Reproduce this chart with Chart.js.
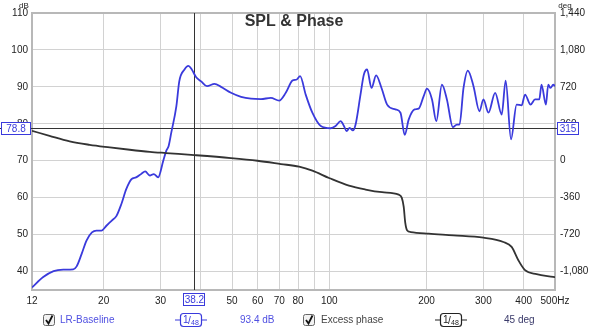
<!DOCTYPE html>
<html>
<head>
<meta charset="utf-8">
<script src="https://cdn.jsdelivr.net/npm/chart.js@4/dist/chart.umd.min.js"></script>
<style>
  html, body { margin: 0; padding: 0; background: #fff; }
  #wrap { width: 600px; height: 331px; }
</style>
</head>
<body>
<div id="wrap"><canvas id="spl" width="600" height="331"></canvas></div>
<script>
// SPL trace (left axis, dB)
const splFreq = [12, 13, 14, 15, 16.1, 16.5, 17.1, 17.7, 18.4, 19, 19.7, 20.4, 21.2, 21.9, 22.7, 23.5, 24.4, 25.2, 26.2, 26.9,
    27.8, 28.6, 29.5, 30.6, 31.3, 31.8, 32.4, 33.6, 34.3, 35.6, 36.6, 37.5, 38.7, 40.1, 41.8, 44.1, 46.2, 49.6, 53.3, 57.2,
    61.4, 65.9, 69.9, 73.3, 76.9, 79.3, 81.2, 84.5, 88.6, 94.1, 101, 104.6, 108.4, 111, 113.1, 115.6, 118.3, 120.6, 124.9, 127.9,
    130.9, 135.1, 139.6, 145.1, 151, 160.2, 166.1, 171.2, 176.2, 183.8, 189.1, 196, 200.7, 208, 214.5, 223.2, 231.3, 241.3, 248.3, 253.1,
    260.4, 268.5, 279.6, 291.7, 300.1, 311, 326.3, 341.9, 351.7, 365.4, 380.3, 394.1, 403.8, 420.1, 433.6, 446.9, 454.2, 468.6, 476.4, 484.2,
    493.6, 500];
const splDb = [35.7, 38.5, 40.1, 40.5, 40.6, 41.4, 44.8, 48.4, 50.6, 51.1, 51.1, 52.4, 53.8, 55.0, 58.3, 62.3, 65.0, 65.5, 66.5, 67.1,
    66.0, 66.4, 65.5, 70.0, 72.8, 74.0, 77.6, 84.8, 91.5, 94.7, 95.7, 94.7, 92.6, 91.5, 90.2, 90.8, 90.0, 88.4, 87.3, 86.8,
    86.7, 87.0, 86.3, 88.4, 91.7, 92.0, 92.9, 87.9, 83.0, 79.4, 78.8, 79.4, 80.7, 79.4, 78.0, 78.9, 78.2, 79.8, 87.9, 93.3,
    94.7, 89.7, 93.1, 89.7, 85.2, 83.9, 83.0, 77.0, 81.2, 83.9, 84.1, 87.5, 89.5, 86.6, 80.7, 90.6, 86.6, 79.1, 79.8, 79.8,
    89.7, 94.4, 90.2, 83.4, 86.6, 83.0, 88.4, 82.5, 91.7, 75.8, 85.2, 85.0, 87.9, 85.2, 86.6, 86.6, 90.6, 85.2, 90.6, 89.7,
    90.6, 90.2];

// Excess phase trace (right axis, deg)
const phaseFreq = [12, 13.6, 15.7, 18.1, 20.9, 24.1, 27.8, 31.2, 38.2, 49.6, 59.9, 70.8, 80.6, 88.6, 99.8, 115, 129.5, 145.7, 164, 167.6,
    170, 171.8, 174.3, 178.7, 203, 242.5, 300.1, 346, 367, 385, 403.8, 438.5, 493.6, 500];
const phaseDeg = [292, 242, 188, 155, 130, 107, 87, 75, 55, 26, 0, -32, -58, -97, -168, -243, -281, -307, -330, -360,
    -450, -600, -680, -695, -711, -727, -750, -792, -840, -970, -1067, -1106, -1132, -1135];

// Axis ticks
const freqTicks = [12, 20, 30, 40, 50, 60, 70, 80, 90, 100, 200, 300, 400, 500];
const freqLabels = ['12', '20', '30', '', '50', '60', '70', '80', '', '100', '200', '300', '400', '500Hz'];
const dbTicks = [40, 50, 60, 70, 80, 90, 100, 110];
const degTicks = [-1080, -720, -360, 0, 360, 720, 1080, 1440];

// Cursor readout
const cursorFreq = 38.2;
const cursorDb = 78.8;
const cursorDeg = 315;

const blue = 'rgb(58, 58, 220)';
const font = 'Liberation Sans, Arial, sans-serif';

function toPoints( xs, ys ) {
    return xs.map( ( x, i ) => ( { x: x, y: ys[i] } ) );
}

/**
 * Draws a small boxed value like the cursor readouts.
 */
function tag( ctx, text, cx, cy, w ) {
    ctx.fillStyle = '#fff';
    ctx.fillRect( cx - w / 2, cy - 6, w, 13 );
    ctx.strokeStyle = blue;
    ctx.lineWidth = 1;
    ctx.strokeRect( Math.round( cx - w / 2 ) + 0.5, Math.round( cy - 6 ) + 0.5, w - 1, 12 );
    ctx.fillStyle = blue;
    ctx.font = '10px ' + font;
    ctx.textAlign = 'center';
    ctx.textBaseline = 'middle';
    ctx.fillText( text, cx, cy + 1 );
}

function checkbox( ctx, x, y ) {
    ctx.fillStyle = '#f2f2f2';
    ctx.strokeStyle = '#666';
    ctx.lineWidth = 1;
    ctx.beginPath();
    ctx.roundRect( x + 0.5, y + 0.5, 11, 11, 2 );
    ctx.fill();
    ctx.stroke();
    ctx.strokeStyle = '#111';
    ctx.lineWidth = 1.8;
    ctx.beginPath();
    ctx.moveTo( x + 3, y + 6 );
    ctx.lineTo( x + 5.5, y + 9.5 );
    ctx.lineTo( x + 9.5, y + 1.5 );
    ctx.stroke();
}

function filterBox( ctx, x, y, color ) {
    ctx.strokeStyle = color;
    ctx.lineWidth = 1.2;
    ctx.beginPath();
    ctx.moveTo( x, y + 7 ); ctx.lineTo( x + 5, y + 7 );
    ctx.moveTo( x + 27, y + 7 ); ctx.lineTo( x + 32, y + 7 );
    ctx.stroke();
    ctx.beginPath();
    ctx.roundRect( x + 5.5, y + 0.5, 21, 13, 3 );
    ctx.stroke();
    ctx.fillStyle = color;
    ctx.textAlign = 'left';
    ctx.textBaseline = 'alphabetic';
    ctx.font = '10px ' + font;
    ctx.fillText( '1', x + 8, y + 10 );
    ctx.fillText( '/', x + 13, y + 11 );
    ctx.font = '7px ' + font;
    ctx.fillText( '48', x + 16, y + 12 );
}

const overlay = {
    id: 'overlay',
    beforeDatasetsDraw( chart ) {
        const ctx = chart.ctx;
        const a = chart.chartArea;
        const xs = chart.scales.x;
        const ys = chart.scales.y;
        ctx.save();
        // plot frame
        ctx.strokeStyle = '#b8b8b8';
        ctx.lineWidth = 2;
        ctx.strokeRect( a.left, a.top, a.right - a.left, a.bottom - a.top );
        // cursor lines
        ctx.strokeStyle = '#333';
        ctx.lineWidth = 1;
        const cx = Math.round( xs.getPixelForValue( cursorFreq ) ) + 0.5;
        const cy = Math.round( ys.getPixelForValue( cursorDb ) ) + 0.5;
        ctx.beginPath();
        ctx.moveTo( cx, a.top ); ctx.lineTo( cx, a.bottom );
        ctx.moveTo( 0, cy ); ctx.lineTo( a.right + 2, cy );
        ctx.stroke();
        ctx.restore();
    },
    afterDraw( chart ) {
        const ctx = chart.ctx;
        const a = chart.chartArea;
        const xs = chart.scales.x;
        const ys = chart.scales.y;
        ctx.save();
        // title
        ctx.fillStyle = '#333';
        ctx.font = 'bold 16px ' + font;
        ctx.textAlign = 'center';
        ctx.textBaseline = 'middle';
        ctx.fillText( 'SPL & Phase', 294, 22 );
        // units
        ctx.font = '8px ' + font;
        ctx.fillStyle = '#222';
        ctx.fillText( 'dB', 24, 6 );
        ctx.fillText( 'deg', 565, 6 );
        // cursor readouts
        const cy = ys.getPixelForValue( cursorDb );
        tag( ctx, cursorDb.toFixed( 1 ), 16, cy, 30 );
        tag( ctx, String( cursorDeg ), 568, cy, 22 );
        tag( ctx, cursorFreq.toFixed( 1 ), xs.getPixelForValue( cursorFreq ), 299, 22 );
        // legend row
        checkbox( ctx, 43, 314 );
        ctx.font = '10px ' + font;
        ctx.textAlign = 'left';
        ctx.textBaseline = 'middle';
        ctx.fillStyle = 'rgb(80, 80, 225)';
        ctx.fillText( 'LR-Baseline', 60, 320.5 );
        filterBox( ctx, 175, 313, blue );
        ctx.font = '10px ' + font;
        ctx.textBaseline = 'middle';
        ctx.fillStyle = 'rgb(80, 80, 225)';
        ctx.fillText( '93.4 dB', 240, 320.5 );
        checkbox( ctx, 303, 314 );
        ctx.fillStyle = '#444';
        ctx.fillText( 'Excess phase', 321, 320.5 );
        filterBox( ctx, 435, 313, '#222' );
        ctx.font = '10px ' + font;
        ctx.textBaseline = 'middle';
        ctx.fillStyle = '#3a3a6a';
        ctx.fillText( '45 deg', 504, 320.5 );
        ctx.restore();
    }
};

const tickFont = { family: font, size: 10 };

new Chart( document.getElementById( 'spl' ), {
    type: 'line',
    data: {
        datasets: [{
            label: 'Excess phase',
            data: toPoints( phaseFreq, phaseDeg ),
            yAxisID: 'y2',
            borderColor: '#333',
            borderWidth: 1.8,
            pointRadius: 0,
            cubicInterpolationMode: 'monotone'
        }, {
            label: 'LR-Baseline',
            data: toPoints( splFreq, splDb ),
            yAxisID: 'y',
            borderColor: blue,
            borderWidth: 1.8,
            pointRadius: 0,
            cubicInterpolationMode: 'monotone'
        }]
    },
    options: {
        responsive: false,
        animation: false,
        events: [],
        layout: { padding: { top: 13, left: 0, right: 0, bottom: 0 } },
        plugins: {
            legend: { display: false },
            title: { display: false },
            tooltip: { enabled: false }
        },
        scales: {
            x: {
                type: 'logarithmic',
                min: 12,
                max: 500,
                afterBuildTicks: ( s ) => { s.ticks = freqTicks.map( v => ( { value: v } ) ); },
                afterFit: ( s ) => { s.height = 41; },
                grid: { color: '#d2d2d2', drawTicks: false },
                border: { display: false },
                ticks: {
                    autoSkip: false,
                    maxRotation: 0,
                    padding: 5,
                    color: '#222',
                    font: tickFont,
                    callback: ( v, i ) => freqLabels[i]
                }
            },
            y: {
                position: 'left',
                min: 35,
                max: 110,
                afterBuildTicks: ( s ) => { s.ticks = dbTicks.map( v => ( { value: v } ) ); },
                afterFit: ( s ) => { s.width = 32; },
                grid: { color: '#d2d2d2', drawTicks: false },
                border: { display: false },
                ticks: { padding: 4, color: '#222', font: tickFont }
            },
            y2: {
                position: 'right',
                min: -1260,
                max: 1440,
                afterBuildTicks: ( s ) => { s.ticks = degTicks.map( v => ( { value: v } ) ); },
                afterFit: ( s ) => { s.width = 45; },
                grid: { display: false, drawTicks: false },
                border: { display: false },
                ticks: {
                    padding: 5,
                    color: '#222',
                    font: tickFont,
                    callback: ( v ) => v.toLocaleString( 'en-US' )
                }
            }
        }
    },
    plugins: [overlay]
});
</script>
</body>
</html>
